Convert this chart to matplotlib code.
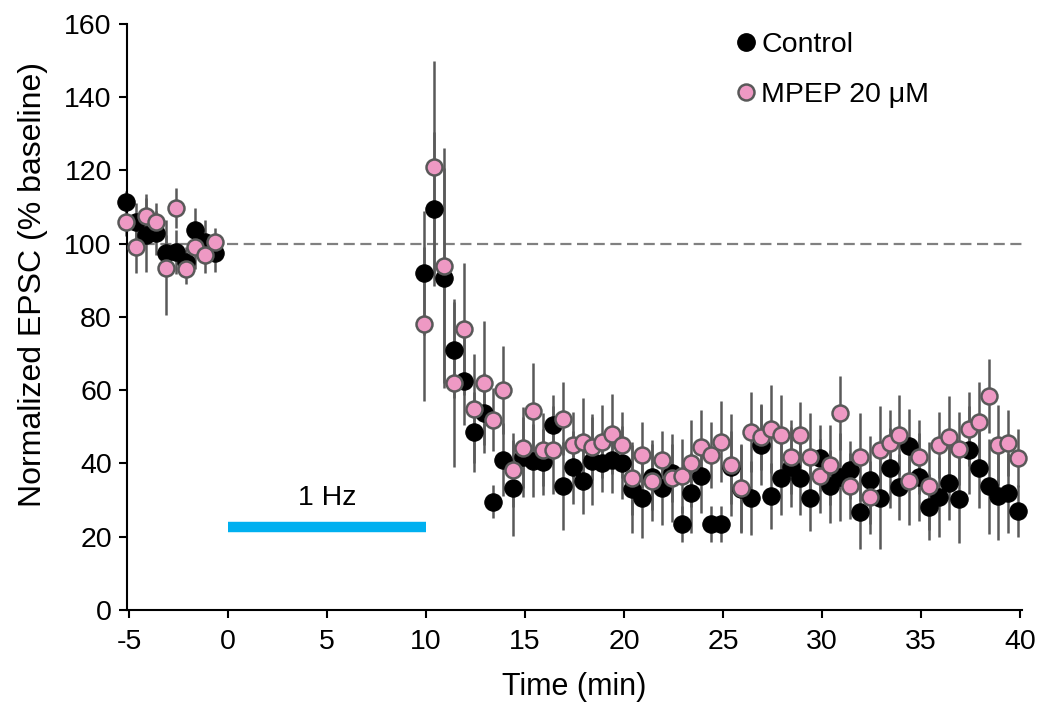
import matplotlib
matplotlib.use("Agg")
import matplotlib.pyplot as plt
from matplotlib.lines import Line2D
import numpy as np

plt.rcParams['font.family'] = ['Liberation Sans', 'DejaVu Sans']
plt.rcParams['axes.unicode_minus'] = False

# baseline (before 1 Hz) and post-stimulation sample times, min
t_base = [-5.15, -4.65, -4.15, -3.65, -3.15, -2.65, -2.15, -1.65, -1.15, -0.65]
t_post = np.round(np.arange(9.9, 40.0, 0.5), 2)

# control, % baseline
ctrl_base = [111.4, 106.0, 102.4, 103.0, 97.4, 97.7, 95.0, 103.7, 100.4, 97.4]
ctrl_base_err = [3, 5, 10, 6, 5, 6, 4, 6, 6, 5]
ctrl_post = [92.0, 109.5, 90.6, 71.0, 62.5, 48.6, 53.8, 29.5, 41.0, 33.3, 41.8,
             40.8, 40.4, 50.6, 33.9, 39.0, 35.3, 40.8, 40.2, 41.0, 40.2,
             33.0, 30.6, 36.3, 33.3, 37.4, 23.5, 32.0, 36.6, 23.5, 23.5,
             39.0, 33.0, 30.6, 45.0, 31.1, 36.0, 39.0, 36.0, 30.6, 41.5,
             33.8, 36.3, 38.2, 26.7, 35.5, 30.6, 38.8, 33.6, 44.8, 36.3,
             28.1, 30.8, 34.7, 30.3, 43.7, 38.8, 33.8, 31.1, 31.9, 27.0]
ctrl_post_err = [17, 21, 30, 13, 12, 11, 11, 4.5, 10, 13, 11,
                 10, 9, 8, 12, 10, 9, 12, 8, 9, 10,
                 12, 11, 9, 10, 8, 5, 11, 10, 5, 5,
                 10, 12, 10, 11, 9, 10, 11, 10, 9, 9,
                 10, 12, 8, 10, 12, 14, 11, 9, 10, 12,
                 9, 11, 10, 12, 12, 11, 13, 12, 11, 7]

# MPEP 20 uM, % baseline
mpep_base = [106.0, 99.0, 107.5, 106.0, 93.5, 109.7, 93.0, 99.0, 97.0, 100.4]
mpep_base_err = [4, 7, 6, 5, 13, 5.5, 4, 6, 5, 4]
mpep_post = [78.0, 121.0, 94.0, 62.0, 76.7, 55.0, 62.0, 52.0, 60.0, 38.2, 44.3,
             54.3, 43.8, 43.8, 52.2, 45.0, 45.8, 44.4, 46.0, 48.0, 45.0,
             36.0, 42.3, 35.3, 41.0, 36.0, 36.6, 40.0, 44.5, 42.3, 46.0,
             39.6, 33.3, 48.6, 47.3, 49.5, 47.8, 41.8, 47.8, 41.8, 36.6,
             39.6, 53.8, 33.8, 41.8, 30.8, 43.7, 45.6, 47.8, 35.2, 41.8,
             33.8, 45.0, 47.3, 44.0, 49.4, 51.3, 58.4, 45.0, 45.6, 41.5]
mpep_post_err = [21, 29, 32, 23, 18, 15, 17, 8.5, 12, 10, 11,
                 13, 10, 12, 10, 9, 12, 9, 10, 11, 9,
                 10, 9, 11, 8, 12, 10, 12, 10, 9, 11,
                 14, 12, 11, 9, 12, 11, 10, 9, 12, 10,
                 11, 10, 9, 12, 10, 12, 9, 11, 12, 10,
                 12, 9, 11, 10, 10, 11, 10, 11, 9, 8]

stim_start, stim_end, stim_level = 0, 10, 22.7

PINK = "#EE99C4"
GREY = "#595959"
FS = 20.5

fig = plt.figure(figsize=(10.42, 7.04), dpi=100)
ax = fig.add_axes([0.122, 0.1335, 0.859, 0.8325])

ax.axhline(100, color="#808080", lw=1.6, ls=(0, (5, 2.5)), zorder=1)

t_all = np.concatenate([t_base, t_post])
ctrl = np.concatenate([ctrl_base, ctrl_post])
ctrl_err = np.concatenate([ctrl_base_err, ctrl_post_err])
mpep = np.concatenate([mpep_base, mpep_post])
mpep_err = np.concatenate([mpep_base_err, mpep_post_err])

# error bars under all markers
ax.errorbar(t_all, ctrl, yerr=ctrl_err, fmt="none", ecolor=GREY, elinewidth=1.8,
            capsize=0, zorder=2, clip_on=False)
ax.errorbar(t_all, mpep, yerr=mpep_err, fmt="none", ecolor=GREY, elinewidth=1.8,
            capsize=0, zorder=2, clip_on=False)
ax.plot(t_all, ctrl, "o", ms=12.5, mfc="black", mec="black", mew=0.8,
        zorder=3, clip_on=False)
ax.plot(t_all, mpep, "o", ms=11.5, mfc=PINK, mec=GREY, mew=1.8,
        zorder=4, clip_on=False)

# 1 Hz stimulation bar
ax.plot([stim_start, stim_end], [stim_level, stim_level], color="#00B0F0",
        lw=7.5, solid_capstyle="butt", zorder=2)
ax.text((stim_start + stim_end) / 2, 30.5, "1 Hz", ha="center", va="center",
        fontsize=FS)

ax.set_xlim(-5.1, 40.1)
ax.set_ylim(0, 160)
ax.set_xticks(np.arange(-5, 41, 5))
ax.set_yticks(np.arange(0, 161, 20))
ax.tick_params(direction="out", length=6, width=1.5, labelsize=FS, pad=5)
ax.tick_params(axis="x", pad=8)
for s in ["top", "right"]:
    ax.spines[s].set_visible(False)
for s in ["left", "bottom"]:
    ax.spines[s].set_linewidth(1.5)

ax.set_xlabel("Time (min)", fontsize=22, labelpad=12)
ax.set_ylabel("Normalized EPSC (% baseline)", fontsize=23)
ax.yaxis.set_label_coords(-0.088, 0.555)

handles = [
    Line2D([], [], marker="o", ls="none", ms=12.5, mfc="black", mec="black"),
    Line2D([], [], marker="o", ls="none", ms=11.5, mfc=PINK, mec=GREY, mew=1.8),
]
ax.legend(handles, ["Control", "MPEP 20 \u03bcM"], loc="upper left",
          bbox_to_anchor=(0.64, 1.03), frameon=False, fontsize=FS,
          handletextpad=-0.15, labelspacing=0.85, handlelength=1.4)

fig.savefig("out.png", dpi=100)
